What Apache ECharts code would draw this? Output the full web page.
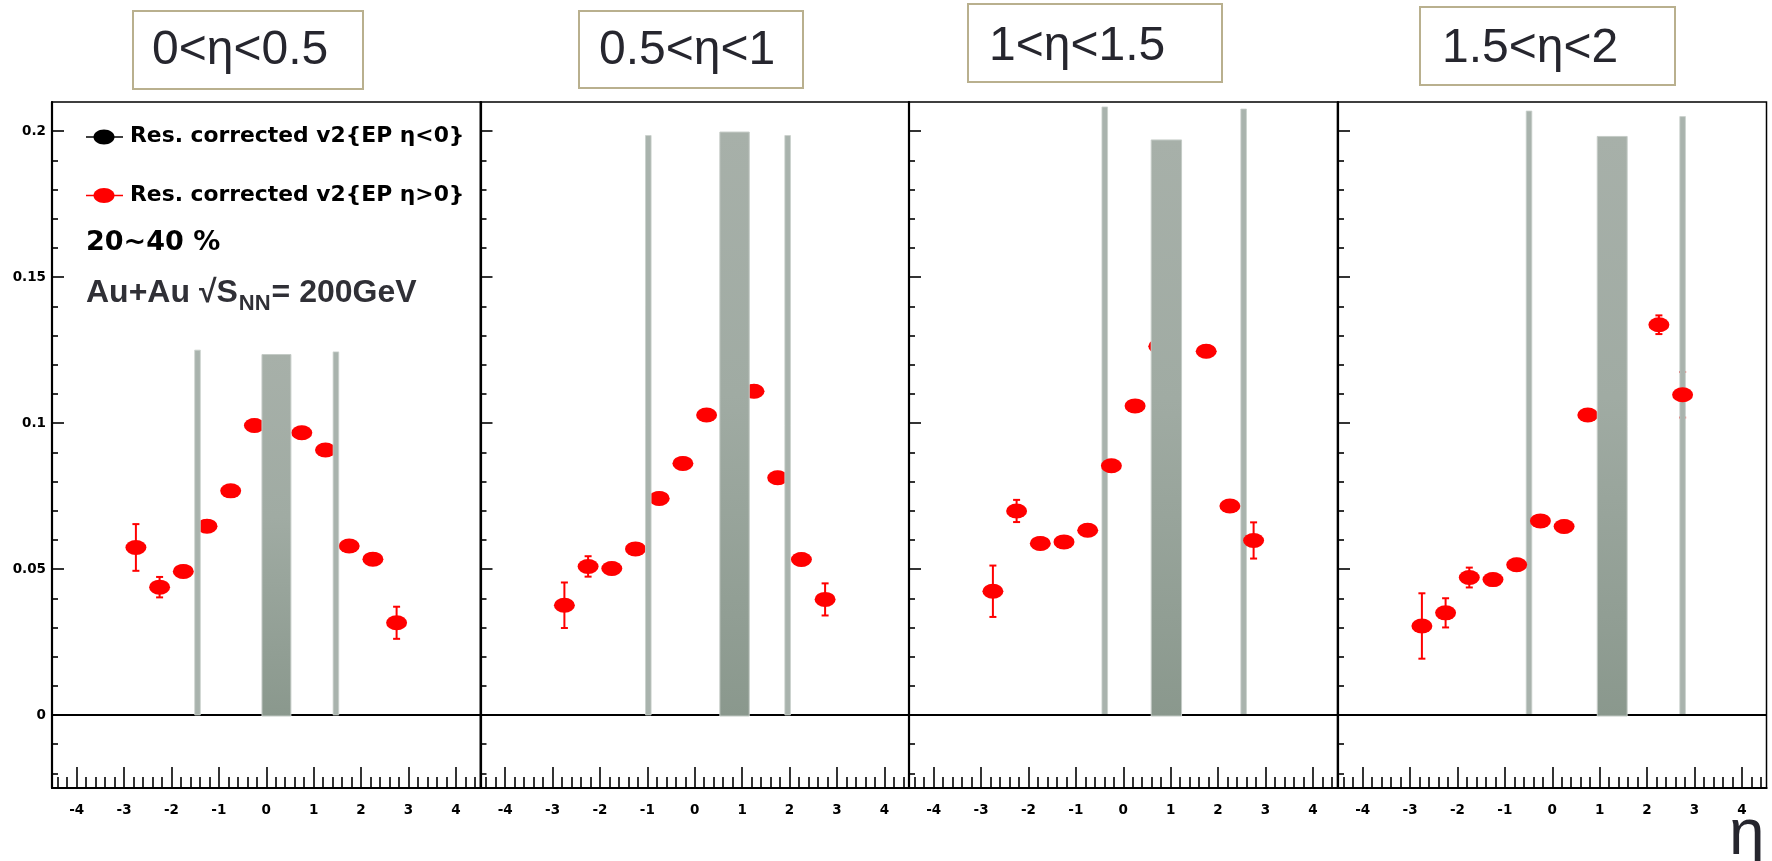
<!DOCTYPE html>
<html>
<head>
<meta charset="utf-8">
<script src="https://cdn.jsdelivr.net/npm/echarts@6/dist/echarts.min.js"></script>
<style>
  html, body { margin: 0; padding: 0; background: #ffffff; }
  #main { width: 1772px; height: 861px; }
</style>
</head>
<body>
<div id="main"></div>
<script>
// Event-plane η windows, one panel each
const panelTitles = ['0<η<0.5', '0.5<η<1', '1<η<1.5', '1.5<η<2'];

// Resolution-corrected v2 versus η, per event-plane window
const etaP1 = [-2.75, -2.25, -1.75, -1.25, -0.75, -0.25, 0.75, 1.25, 1.75, 2.25, 2.75];
const v2P1  = [0.0574, 0.0438, 0.0492, 0.0647, 0.0768, 0.0992, 0.0967, 0.0908, 0.0579, 0.0534, 0.0316];
const errP1 = [0.0080, 0.0035, 0.0020, 0.0020, 0.0020, 0.0020, 0.0020, 0.0020, 0.0020, 0.0020, 0.0055];

const etaP2 = [-2.75, -2.25, -1.75, -1.25, -0.75, -0.25, 0.25, 1.25, 1.75, 2.25, 2.75];
const v2P2  = [0.0376, 0.0509, 0.0502, 0.0569, 0.0742, 0.0862, 0.1028, 0.1109, 0.0813, 0.0533, 0.0396];
const errP2 = [0.0078, 0.0035, 0.0020, 0.0020, 0.0020, 0.0020, 0.0020, 0.0020, 0.0020, 0.0020, 0.0055];

const etaP3 = [-2.75, -2.25, -1.75, -1.25, -0.75, -0.25, 0.25, 0.75, 1.75, 2.25, 2.75];
const v2P3  = [0.0424, 0.0699, 0.0588, 0.0593, 0.0633, 0.0854, 0.1059, 0.1263, 0.1246, 0.0716, 0.0598];
const errP3 = [0.0088, 0.0038, 0.0020, 0.0020, 0.0020, 0.0020, 0.0020, 0.0020, 0.0020, 0.0020, 0.0062];

const etaP4 = [-2.75, -2.25, -1.75, -1.25, -0.75, -0.25, 0.25, 0.75, 2.25, 2.75];
const v2P4  = [0.0305, 0.0350, 0.0471, 0.0464, 0.0515, 0.0665, 0.0646, 0.1028, 0.1337, 0.1097];
const errP4 = [0.0112, 0.0050, 0.0034, 0.0020, 0.0020, 0.0020, 0.0020, 0.0020, 0.0032, 0.0078];

// Event-plane detector acceptance band (η from, η to, height)
const bandLo  = [-0.09, 0.53, 0.59, 0.95];
const bandHi  = [0.52, 1.15, 1.23, 1.58];
const bandTop = [0.1235, 0.1997, 0.1970, 0.1982];

// η-gap edges (η, height)
const gapEta = [[-1.45, 1.47], [-0.98, 1.96], [-0.39, 2.54], [-0.49, 2.75]];
const gapTop = [[0.1250, 0.1244], [0.1985, 0.1985], [0.2083, 0.2076], [0.2069, 0.2050]];

// Axis ticks
const etaMajorTicks = [-4, -3, -2, -1, 0, 1, 2, 3, 4];
const v2MajorTicks = [0, 0.05, 0.1, 0.15, 0.2];

const etaMinorTicks = [];
for (let k = -22; k <= 22; k++) { if (k % 5 !== 0) etaMinorTicks.push(+(k * 0.2).toFixed(1)); }
const v2MinorTicks = [];
for (let k = -2; k <= 20; k++) { if (k % 5 !== 0) v2MinorTicks.push(+(k * 0.01).toFixed(2)); }

const panels = [
  { eta: etaP1, v2: v2P1, err: errP1 },
  { eta: etaP2, v2: v2P2, err: errP2 },
  { eta: etaP3, v2: v2P3, err: errP3 },
  { eta: etaP4, v2: v2P4, err: errP4 }
];

const ETA_MIN = -4.52, ETA_MAX = 4.52;
const V2_MIN = -0.025, V2_MAX = 0.21;

const gridLefts = [52, 480.5, 909, 1338];
const gridWidth = 428.5;
const gridTop = 102, gridHeight = 686;

const RED = '#ff0000';
const tickFont = { fontFamily: 'DejaVu Sans', fontWeight: 'bold', fontSize: 13.5, color: '#000' };

const grids = [], xAxes = [], yAxes = [], series = [];

panels.forEach((p, i) => {
  grids.push({
    left: gridLefts[i], top: gridTop, width: gridWidth, height: gridHeight,
    show: true, borderColor: '#000', borderWidth: 1.5, backgroundColor: 'transparent'
  });

  // major η axis
  xAxes.push({
    gridIndex: i, type: 'value', position: 'bottom', min: ETA_MIN, max: ETA_MAX,
    axisLine: { show: true, onZero: false, lineStyle: { color: '#000', width: 2.2 } },
    axisTick: { show: true, inside: true, length: 21, customValues: etaMajorTicks, lineStyle: { color: '#000', width: 1.6 } },
    axisLabel: Object.assign({ show: true, margin: 15, customValues: etaMajorTicks }, tickFont),
    splitLine: { show: false }
  });
  // minor η ticks
  xAxes.push({
    gridIndex: i, type: 'value', position: 'bottom', min: ETA_MIN, max: ETA_MAX,
    axisLine: { show: false, onZero: false },
    axisTick: { show: true, inside: true, length: 11, customValues: etaMinorTicks, lineStyle: { color: '#000', width: 1.6 } },
    axisLabel: { show: false },
    splitLine: { show: false }
  });
  // major v2 axis
  yAxes.push({
    gridIndex: i, type: 'value', position: 'left', min: V2_MIN, max: V2_MAX,
    axisLine: { show: true, onZero: false, lineStyle: { color: '#000', width: 2.2 } },
    axisTick: { show: true, inside: true, length: 12, customValues: v2MajorTicks, lineStyle: { color: '#000', width: 1.6 } },
    axisLabel: Object.assign({ show: i === 0, margin: 6, customValues: v2MajorTicks }, tickFont),
    splitLine: { show: false }
  });
  // minor v2 ticks
  yAxes.push({
    gridIndex: i, type: 'value', position: 'left', min: V2_MIN, max: V2_MAX,
    axisLine: { show: false, onZero: false },
    axisTick: { show: true, inside: true, length: 6, customValues: v2MinorTicks, lineStyle: { color: '#000', width: 1.6 } },
    axisLabel: { show: false },
    splitLine: { show: false }
  });

  const xi = 2 * i, yi = 2 * i;

  // error bars, with the v2 = 0 reference line
  series.push({
    type: 'custom', xAxisIndex: xi, yAxisIndex: yi, z: 2, silent: true,
    data: p.eta.map((e, k) => [e, p.v2[k], p.err[k]]),
    encode: { x: 0, y: 1 },
    renderItem: (params, api) => {
      const x = api.value(0), y = api.value(1), e = api.value(2);
      const top = api.coord([x, y + e]);
      const bot = api.coord([x, y - e]);
      const cap = 3.5;
      const st = { stroke: RED, lineWidth: 2 };
      return {
        type: 'group', children: [
          { type: 'line', shape: { x1: top[0], y1: top[1], x2: bot[0], y2: bot[1] }, style: st },
          { type: 'line', shape: { x1: top[0] - cap, y1: top[1], x2: top[0] + cap, y2: top[1] }, style: st },
          { type: 'line', shape: { x1: bot[0] - cap, y1: bot[1], x2: bot[0] + cap, y2: bot[1] }, style: st }
        ]
      };
    },
    markLine: {
      silent: true, symbol: 'none', label: { show: false }, animation: false,
      lineStyle: { color: '#000', width: 1.8, type: 'solid' },
      data: [{ yAxis: 0 }]
    }
  });

  // data points
  series.push({
    type: 'scatter', xAxisIndex: xi, yAxisIndex: yi, z: 4, silent: true,
    symbol: 'circle', symbolSize: [21, 15],
    itemStyle: { color: RED, opacity: 1 },
    data: p.eta.map((e, k) => [e, p.v2[k]])
  });

  // η-gap edge markers
  series.push({
    type: 'custom', xAxisIndex: xi, yAxisIndex: yi, z: i < 2 ? 5 : 3, silent: true,
    data: gapEta[i].map((e, k) => [e, gapTop[i][k]]),
    encode: { x: 0, y: 1 },
    renderItem: (params, api) => {
      const t = api.coord([api.value(0), api.value(1)]);
      const b = api.coord([api.value(0), 0]);
      return {
        type: 'rect',
        shape: { x: t[0] - 2.8, y: t[1], width: 5.6, height: b[1] - t[1] },
        style: { fill: '#a9b3ad', stroke: '#c9d0cb', lineWidth: 0.8 }
      };
    }
  });

  // event-plane acceptance band
  series.push({
    type: 'custom', xAxisIndex: xi, yAxisIndex: yi, z: 6, silent: true,
    data: [[bandLo[i], bandHi[i], bandTop[i]]],
    encode: { x: [0, 1], y: 2 },
    renderItem: (params, api) => {
      const a = api.coord([api.value(0), 0]);
      const b = api.coord([api.value(1), api.value(2)]);
      return {
        type: 'rect',
        shape: { x: a[0], y: b[1], width: b[0] - a[0], height: a[1] - b[1] + 1 },
        style: {
          fill: new echarts.graphic.LinearGradient(0, 0, 0, 1, [
            { offset: 0, color: '#a7b0a9' },
            { offset: 0.45, color: '#a0aba3' },
            { offset: 1, color: '#8a988d' }
          ]),
          stroke: '#c4cbc6', lineWidth: 1
        }
      };
    }
  });
});

// measure text so the subscript pieces sit next to each other
const measureCtx = document.createElement('canvas').getContext('2d');
function textWidth(str, font) { measureCtx.font = font; return measureCtx.measureText(str).width; }

const graphics = [];

// window title boxes
const boxRects = [[133, 11, 230, 78], [579, 11, 224, 77], [968, 4, 254, 78], [1420, 7, 255, 78]];
const boxTextPos = [[152, 51], [599, 51], [989, 47], [1442, 49]];
panelTitles.forEach((t, i) => {
  const r = boxRects[i];
  graphics.push({
    type: 'rect', z: 100, silent: true,
    shape: { x: r[0], y: r[1], width: r[2], height: r[3] },
    style: { fill: '#ffffff', stroke: '#b9b08e', lineWidth: 2 }
  });
  graphics.push({
    type: 'text', z: 101, silent: true, x: boxTextPos[i][0], y: boxTextPos[i][1],
    style: { text: t, fill: '#26262e', font: '48px "Liberation Sans", Arial, sans-serif', verticalAlign: 'middle', align: 'left' }
  });
});

// legend
const legendRows = [
  { y: 137, color: '#000000', label: 'Res. corrected v2{EP η<0}' },
  { y: 195.5, color: RED, label: 'Res. corrected v2{EP η>0}' }
];
legendRows.forEach(row => {
  graphics.push({
    type: 'line', z: 100, silent: true,
    shape: { x1: 86, y1: row.y, x2: 123, y2: row.y },
    style: { stroke: row.color, lineWidth: 1.6 }
  });
  graphics.push({
    type: 'ellipse', z: 101, silent: true,
    shape: { cx: 104, cy: row.y, rx: 10.5, ry: 7.5 },
    style: { fill: row.color }
  });
  graphics.push({
    type: 'text', z: 101, silent: true, x: 130, y: row.y, scaleX: 1.04,
    style: { text: row.label, fill: '#000', font: 'bold 21px "DejaVu Sans", sans-serif', verticalAlign: 'middle', align: 'left' }
  });
});

graphics.push({
  type: 'text', z: 101, silent: true, x: 86, y: 243,
  style: { text: '20~40 %', fill: '#000', font: 'bold 27px "DejaVu Sans", sans-serif', verticalAlign: 'middle', align: 'left' }
});

// collision system line with subscript
const sysFont = 'bold 32px "Liberation Sans", Arial, sans-serif';
const subFont = 'bold 22px "Liberation Sans", Arial, sans-serif';
const sysMain = 'Au+Au √S', sysSub = 'NN', sysTail = '= 200GeV';
const wMain = textWidth(sysMain, sysFont);
const wSub = textWidth(sysSub, subFont);
graphics.push({
  type: 'text', z: 101, silent: true, x: 86, y: 293,
  style: { text: sysMain, fill: '#303036', font: sysFont, verticalAlign: 'middle', align: 'left' }
});
graphics.push({
  type: 'text', z: 101, silent: true, x: 86 + wMain + 1, y: 304,
  style: { text: sysSub, fill: '#303036', font: subFont, verticalAlign: 'middle', align: 'left' }
});
graphics.push({
  type: 'text', z: 101, silent: true, x: 86 + wMain + wSub + 2, y: 293,
  style: { text: sysTail, fill: '#303036', font: sysFont, verticalAlign: 'middle', align: 'left' }
});

// η axis title
graphics.push({
  type: 'text', z: 101, silent: true, x: 1729, y: 836,
  style: { text: 'η', fill: '#26262e', font: '64px "Liberation Sans", Arial, sans-serif', verticalAlign: 'middle', align: 'left' }
});

const chart = echarts.init(document.getElementById('main'), null, { renderer: 'canvas' });
chart.setOption({
  animation: false,
  backgroundColor: '#ffffff',
  grid: grids,
  xAxis: xAxes,
  yAxis: yAxes,
  series: series,
  graphic: graphics
});
</script>
</body>
</html>
